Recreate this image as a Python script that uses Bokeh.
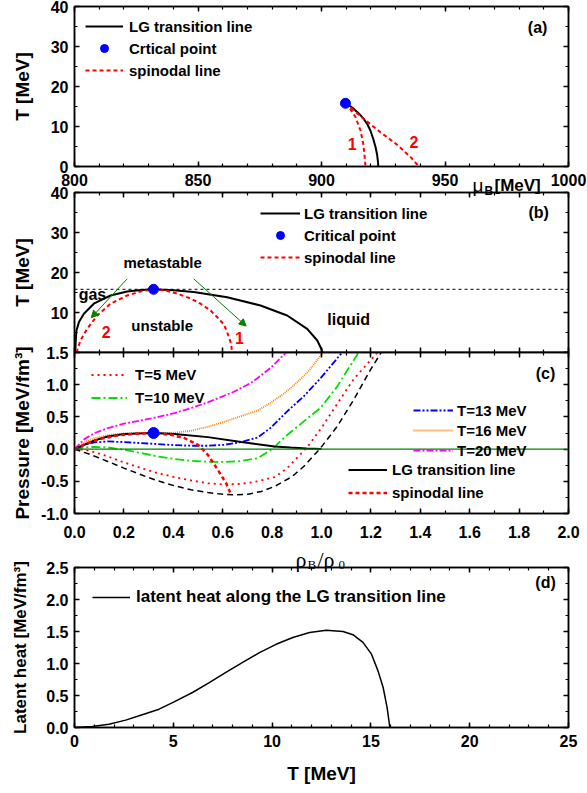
from bokeh.plotting import figure
from bokeh.layouts import column
from bokeh.models import (LinearAxis, SingleIntervalTicker, Legend, LegendItem,
                          Label, Span, Arrow, NormalHead, CustomJSTickFormatter, Range1d,
                          PrintfTickFormatter)
from bokeh.embed import file_html
from bokeh.resources import INLINE

# ---------------- data ----------------
# critical point
crit_mu = [909.7]
crit_T = [15.8]
crit_rho = [0.32]
crit_P = [0.25]

# panel (a): T vs mu_B
a_lg_mu = [909.7, 911.8, 913.1, 915.2, 917.1, 918.6, 919.8, 920.9, 921.9, 922.5, 922.8, 923.0]
a_lg_T = [15.8, 15.0, 14.4, 13.2, 11.9, 10.5, 9.0, 7.0, 4.8, 3.0, 1.5, 0.0]
a_sp1_mu = [909.7, 911.5, 913.8, 915.8, 916.9, 917.5, 917.8]
a_sp1_T = [15.8, 14.5, 12.3, 9.0, 5.7, 2.3, 0.0]
a_sp2_mu = [909.7, 912.0, 917.0, 924.0, 930.7, 936.0, 939.4]
a_sp2_T = [15.8, 14.6, 11.95, 8.5, 5.4, 2.4, 0.0]

# panel (b): T vs rho_B/rho_0
b_lg_rho = [0.003, 0.005, 0.008, 0.018, 0.038, 0.078, 0.146, 0.213, 0.27, 0.32, 0.40,
            0.483, 0.618, 0.753, 0.861, 0.942, 0.983, 1.0, 1.003]
b_lg_T = [0.0, 3.0, 5.5, 7.6, 9.7, 12.2, 14.25, 15.25, 15.65, 15.8, 15.55,
          15.1, 13.8, 11.75, 9.25, 5.9, 3.0, 0.8, 0.0]
b_sp_rho = [0.008, 0.024, 0.051, 0.092, 0.146, 0.213, 0.27, 0.32, 0.37, 0.416, 0.47,
            0.51, 0.551, 0.578, 0.605, 0.618, 0.634, 0.638]
b_sp_T = [0.0, 3.0, 5.9, 9.25, 12.2, 14.25, 15.3, 15.8, 15.5, 14.7, 13.5,
          12.2, 10.5, 8.8, 7.0, 5.1, 2.2, 0.0]
# arrows (start rho, start T, end rho, end T)
arrow_x0 = [0.213, 0.483]
arrow_y0 = [18.4, 18.4]
arrow_x1 = [0.068, 0.695]
arrow_y1 = [8.7, 6.6]

# panel (c): pressure isotherms
c_T0_rho = [0.0, 0.067, 0.135, 0.2, 0.27, 0.337, 0.405, 0.472, 0.54, 0.607, 0.648, 0.702,
            0.756, 0.81, 0.847, 0.88, 0.928, 0.996, 1.063, 1.131, 1.198, 1.232, 1.245]
c_T0_P = [0.0, -0.088, -0.192, -0.295, -0.399, -0.492, -0.57, -0.632, -0.674, -0.705, -0.71, -0.70,
          -0.658, -0.58, -0.50, -0.43, -0.27, 0.015, 0.35, 0.77, 1.23, 1.44, 1.52]
c_T5_rho = [0.0, 0.04, 0.081, 0.135, 0.2, 0.27, 0.337, 0.405, 0.472, 0.54, 0.607, 0.675,
            0.742, 0.81, 0.86, 0.90, 0.94, 1.0, 1.063, 1.131, 1.219, 1.23]
c_T5_P = [0.0, -0.01, -0.047, -0.114, -0.207, -0.295, -0.373, -0.435, -0.487, -0.53, -0.55, -0.54,
          -0.50, -0.435, -0.30, -0.14, 0.02, 0.33, 0.70, 1.09, 1.47, 1.52]
c_T10_rho = [0.0, 0.04, 0.081, 0.135, 0.2, 0.27, 0.337, 0.405, 0.472, 0.54, 0.607, 0.675,
             0.742, 0.80, 0.861, 0.928, 0.996, 1.063, 1.145, 1.15]
c_T10_P = [0.0, 0.026, 0.036, 0.026, -0.01, -0.062, -0.114, -0.155, -0.181, -0.197, -0.2, -0.186,
           -0.14, 0.0, 0.22, 0.43, 0.64, 0.97, 1.47, 1.52]
c_T13_rho = [0.0, 0.04, 0.081, 0.135, 0.2, 0.27, 0.337, 0.405, 0.472, 0.54, 0.607, 0.675,
             0.742, 0.794, 0.861, 0.928, 0.996, 1.077, 1.085]
c_T13_P = [0.0, 0.067, 0.104, 0.119, 0.109, 0.093, 0.078, 0.062, 0.052, 0.052, 0.067, 0.109,
           0.181, 0.33, 0.585, 0.82, 1.1, 1.47, 1.52]
c_T16_rho = [0.0, 0.04, 0.081, 0.135, 0.2, 0.32, 0.405, 0.472, 0.54, 0.607, 0.675, 0.742,
             0.794, 0.847, 0.90, 0.95, 0.996, 1.01]
c_T16_P = [0.0, 0.104, 0.171, 0.218, 0.244, 0.25, 0.254, 0.285, 0.347, 0.425, 0.513, 0.60,
           0.72, 0.86, 1.03, 1.22, 1.45, 1.52]
c_T20_rho = [0.0, 0.04, 0.081, 0.135, 0.2, 0.27, 0.337, 0.405, 0.472, 0.54, 0.645, 0.72,
             0.794, 0.854, 0.86]
c_T20_P = [0.0, 0.155, 0.249, 0.326, 0.394, 0.446, 0.497, 0.56, 0.637, 0.725, 0.89, 1.04,
           1.26, 1.49, 1.52]
c_lg_rho = [0.0, 0.04, 0.081, 0.135, 0.2, 0.32, 0.405, 0.54, 0.675, 0.81, 0.874, 0.94, 1.0]
c_lg_P = [0.0, 0.067, 0.135, 0.196, 0.233, 0.25, 0.233, 0.186, 0.109, 0.041, 0.025, 0.01, 0.0]
c_sp_rho = [0.0, 0.054, 0.108, 0.175, 0.243, 0.32, 0.391, 0.445, 0.5, 0.54, 0.58, 0.614, 0.634]
c_sp_P = [0.0, 0.093, 0.16, 0.212, 0.238, 0.25, 0.222, 0.171, 0.067, -0.088, -0.321, -0.53, -0.71]

# panel (d): latent heat vs T
d_T = [0.0, 0.9, 1.74, 2.59, 3.43, 4.28, 5.04, 5.97, 6.82, 7.66, 8.51, 9.36, 10.2, 11.05,
       11.9, 12.74, 13.59, 14.09, 14.6, 15.03, 15.36, 15.62, 15.82, 15.96]
d_L = [0.0, 0.016, 0.052, 0.115, 0.2, 0.286, 0.40, 0.547, 0.70, 0.86, 1.016, 1.17, 1.30, 1.406,
       1.484, 1.52, 1.50, 1.45, 1.33, 1.146, 0.885, 0.625, 0.31, 0.0]

# ---------------- styling helpers ----------------
FONT = "Liberation Sans"
SERIF = "Liberation Serif"
FRAME_L, FRAME_W, BORDER_R = 74, 494, 19


def style_axis(ax, labels=True, standoff=6, fmt=None, title_size="19px"):
    ax.axis_line_width = 1.5
    ax.axis_line_color = "black"
    ax.major_tick_in = 5
    ax.major_tick_out = 0
    ax.minor_tick_in = 3
    ax.minor_tick_out = 0
    ax.major_tick_line_width = 1.5
    ax.minor_tick_line_width = 1.2
    ax.major_label_text_font = FONT
    ax.major_label_text_font_style = "bold"
    ax.major_label_text_color = "black"
    if labels:
        ax.major_label_text_font_size = "16px"
        ax.major_label_standoff = standoff
        if fmt:
            ax.formatter = PrintfTickFormatter(format=fmt)
    else:
        ax.major_label_text_font_size = "0px"
        ax.major_label_standoff = 0
        ax.formatter = CustomJSTickFormatter(code="return ''")
    ax.axis_label_text_font = FONT
    ax.axis_label_text_font_style = "bold"
    ax.axis_label_text_font_size = title_size
    ax.axis_label_text_color = "black"


def make_panel(frame_h, xr, yr, xtick, ytick, top, bottom, mtop, xlabels,
               ylabel, ylab_standoff, xfmt=None, yfmt=None, xstand=7, xlabel=None,
               xlab_standoff=10, y_overrides=None, ytitle_size="19px"):
    p = figure(frame_width=FRAME_W, frame_height=frame_h, x_range=xr, y_range=yr,
               x_axis_type=None, y_axis_type=None, output_backend="svg",
               toolbar_location=None, min_border_left=FRAME_L, min_border_right=BORDER_R,
               min_border_top=top, min_border_bottom=bottom, margin=(mtop, 0, 0, 0))
    p.border_fill_alpha = 0
    p.background_fill_color = "white"
    p.outline_line_color = "black"
    p.outline_line_width = 1.5
    bx = LinearAxis(ticker=xtick)
    style_axis(bx, labels=xlabels, standoff=xstand, fmt=xfmt)
    if xlabel:
        bx.axis_label = xlabel
        bx.axis_label_standoff = xlab_standoff
    p.add_layout(bx, "below")
    tx = LinearAxis(ticker=xtick)
    style_axis(tx, labels=False)
    p.add_layout(tx, "above")
    ly = LinearAxis(ticker=ytick, axis_label=ylabel)
    style_axis(ly, labels=True, standoff=6, fmt=yfmt, title_size=ytitle_size)
    ly.axis_label_standoff = ylab_standoff
    if y_overrides:
        ly.major_label_overrides = y_overrides
    p.add_layout(ly, "left")
    ry = LinearAxis(ticker=ytick)
    style_axis(ry, labels=False)
    p.add_layout(ry, "right")
    return p


def make_legend(items, vx, vy, gw, standoff, lh, spacing, fsize="15px"):
    return Legend(items=items, location=(vx, vy), glyph_width=gw, glyph_height=lh,
                  label_height=lh, label_standoff=standoff, spacing=spacing, padding=0,
                  margin=0, border_line_alpha=0, background_fill_alpha=0,
                  label_text_font=FONT, label_text_font_size=fsize,
                  label_text_font_style="bold", label_text_color="black")


def txt(p, x, y, text, size="15px", color="black", align="center", style="bold",
        font=FONT, baseline="middle"):
    p.add_layout(Label(x=x, y=y, text=text, text_font=font, text_font_size=size,
                       text_font_style=style, text_color=color, text_align=align,
                       text_baseline=baseline))


# ---------------- panel (a) ----------------
pa = make_panel(160, Range1d(800, 1000), Range1d(0, 40),
                SingleIntervalTicker(interval=50, num_minor_ticks=5),
                SingleIntervalTicker(interval=10, num_minor_ticks=2),
                top=6, bottom=26, mtop=0, xlabels=True, ylabel="T [MeV]", ylab_standoff=15)
ra_lg = pa.line(a_lg_mu, a_lg_T, line_color="black", line_width=2)
ra_sp1 = pa.line(a_sp1_mu, a_sp1_T, line_color="red", line_width=2, line_dash="4 3")
pa.line(a_sp2_mu, a_sp2_T, line_color="red", line_width=2, line_dash="4 3")
ra_cp = pa.scatter(crit_mu, crit_T, size=10, marker="circle", color="blue")
pa.add_layout(make_legend([LegendItem(label="LG transition line", renderers=[ra_lg]),
                           LegendItem(label="Crtical point", renderers=[ra_cp]),
                           LegendItem(label="spinodal line", renderers=[ra_sp1])],
                          vx=11, vy=86, gw=38, standoff=6, lh=20, spacing=2))
txt(pa, 912.4, 5.7, "1", size="16px", color="red")
txt(pa, 937.4, 6.1, "2", size="16px", color="red")
txt(pa, 987.5, 34.8, "(a)", size="16px")
H_A = 6 + 160 + 26

# ---------------- panel (b) ----------------
pb = make_panel(160, Range1d(0, 2), Range1d(0, 40),
                SingleIntervalTicker(interval=0.2, num_minor_ticks=2),
                SingleIntervalTicker(interval=10, num_minor_ticks=2),
                top=12, bottom=10, mtop=-12, xlabels=False, ylabel="T [MeV]",
                ylab_standoff=15, y_overrides={0: ""})
pb.add_layout(Span(location=crit_T[0], dimension="width", line_color="black",
                   line_width=1, line_dash="3 3"))
rb_lg = pb.line(b_lg_rho, b_lg_T, line_color="black", line_width=2)
rb_sp = pb.line(b_sp_rho, b_sp_T, line_color="red", line_width=2, line_dash="4 3")
rb_cp = pb.scatter(crit_rho, crit_T, size=10, marker="circle", color="blue")
for x0, y0, x1, y1 in zip(arrow_x0, arrow_y0, arrow_x1, arrow_y1):
    pb.add_layout(Arrow(end=NormalHead(size=7, fill_color="green", line_color="green"),
                        x_start=x0, y_start=y0, x_end=x1, y_end=y1,
                        line_color="green", line_width=1))
pb.add_layout(make_legend([LegendItem(label="LG transition line", renderers=[rb_lg]),
                           LegendItem(label="Critical point", renderers=[rb_cp]),
                           LegendItem(label="spinodal line", renderers=[rb_sp])],
                          vx=186, vy=85, gw=40, standoff=4, lh=20, spacing=2))
txt(pb, 0.357, 22.6, "metastable")
txt(pb, 0.017, 14.5, "gas", size="16px", align="left")
txt(pb, 0.355, 6.75, "unstable")
txt(pb, 1.11, 8.2, "liquid", size="16px")
txt(pb, 0.668, 3.7, "1", size="16px", color="red")
txt(pb, 0.128, 5.1, "2", size="16px", color="red")
txt(pb, 1.879, 35.1, "(b)", size="16px")
H_B = 12 + 160 + 10 - 12

# ---------------- panel (c) ----------------
pc = make_panel(161, Range1d(0, 2), Range1d(-1.0, 1.5),
                SingleIntervalTicker(interval=0.2, num_minor_ticks=2),
                SingleIntervalTicker(interval=0.5, num_minor_ticks=2),
                top=12, bottom=56, mtop=-22, xlabels=True,
                ylabel="Pressure [MeV/fm³]", ylab_standoff=5,
                xfmt="%.1f", yfmt="%.1f", xstand=12)
pc.add_layout(Span(location=0, dimension="width", line_color="#008000", line_width=1.2))
pc.line(c_T0_rho, c_T0_P, line_color="black", line_width=1.5, line_dash="6 4")
r5 = pc.line(c_T5_rho, c_T5_P, line_color="red", line_width=1.8, line_dash="2 4")
r10 = pc.line(c_T10_rho, c_T10_P, line_color="#00e000", line_width=1.8, line_dash="9 3 2 3")
r13 = pc.line(c_T13_rho, c_T13_P, line_color="blue", line_width=1.8, line_dash="7 2 2 2 2 2")
r16 = pc.line(c_T16_rho, c_T16_P, line_color="#ff8000", line_width=1.8, line_dash="1 1")
r20 = pc.line(c_T20_rho, c_T20_P, line_color="magenta", line_width=1.8, line_dash="7 2 2 2")
rc_lg = pc.line(c_lg_rho, c_lg_P, line_color="black", line_width=2)
rc_sp = pc.line(c_sp_rho, c_sp_P, line_color="red", line_width=2.5, line_dash="4 3")
pc.scatter(crit_rho, crit_P, size=11, marker="circle", color="blue")
pc.add_layout(make_legend([LegendItem(label="T=5 MeV", renderers=[r5]),
                           LegendItem(label="T=10 MeV", renderers=[r10])],
                          vx=17, vy=105, gw=36, standoff=8, lh=21, spacing=2))
pc.add_layout(make_legend([LegendItem(label="T=13 MeV", renderers=[r13]),
                           LegendItem(label="T=16 MeV", renderers=[r16]),
                           LegendItem(label="T=20 MeV", renderers=[r20])],
                          vx=339, vy=53, gw=40, standoff=4, lh=20, spacing=0))
pc.add_layout(make_legend([LegendItem(label="LG transition line", renderers=[rc_lg]),
                           LegendItem(label="spinodal line", renderers=[rc_sp])],
                          vx=274, vy=10, gw=39, standoff=5, lh=21, spacing=2))
txt(pc, 1.907, 1.18, "(c)", size="16px")
H_C = 12 + 161 + 56 - 22

# ---------------- panel (d) ----------------
pd_ = make_panel(160, Range1d(0, 25), Range1d(0, 2.5),
                 SingleIntervalTicker(interval=5, num_minor_ticks=5),
                 SingleIntervalTicker(interval=0.5, num_minor_ticks=2),
                 top=20, bottom=64, mtop=-22, xlabels=True,
                 ylabel="Latent heat [MeV/fm³]", ylab_standoff=13, yfmt="%.1f",
                 xstand=7, xlabel="T [MeV]", xlab_standoff=13, ytitle_size="17px")
rd = pd_.line(d_T, d_L, line_color="black", line_width=1.5)
pd_.add_layout(make_legend([LegendItem(label="latent heat along the LG transition line",
                                       renderers=[rd])],
                           vx=18, vy=120, gw=38, standoff=6, lh=20, spacing=0, fsize="17px"))
txt(pd_, 23.84, 2.27, "(d)", size="16px")
H_D = 20 + 160 + 64 - 22

# ---------------- transparent overlay (page-pixel coordinates) for sub-scripted titles ----------------
H_ALL = H_A + H_B + H_C + H_D
ov = figure(frame_width=FRAME_W, frame_height=H_ALL,
            x_range=Range1d(FRAME_L, FRAME_L + FRAME_W), y_range=Range1d(H_ALL, 0),
            x_axis_type=None, y_axis_type=None, output_backend="svg", toolbar_location=None,
            min_border_left=FRAME_L, min_border_right=BORDER_R, min_border_top=0,
            min_border_bottom=0, margin=(-H_ALL, 0, 0, 0))
ov.border_fill_alpha = 0
ov.background_fill_alpha = 0
ov.outline_line_color = None
# mu_B [MeV] (panel a, in the tick-label row)
txt(ov, 472, 185, "μ", size="19px", align="left", style="normal", baseline="alphabetic")
txt(ov, 484, 190, "B", size="12px", align="left", baseline="alphabetic")
txt(ov, 494, 185, "[MeV]", size="17px", align="left", baseline="alphabetic")
# rho_B / rho_0 (panel c)
txt(ov, 295, 559, "ρ", size="22px", align="left", style="normal", font=SERIF,
    baseline="alphabetic")
txt(ov, 307, 564, "B", size="13px", align="left", style="normal", font=SERIF,
    baseline="alphabetic")
txt(ov, 317, 559, "/ρ", size="22px", align="left", style="normal", font=SERIF,
    baseline="alphabetic")
txt(ov, 338, 564, "0", size="13px", align="left", style="normal", font=SERIF,
    baseline="alphabetic")

layout = column(pa, pb, pc, pd_, ov, spacing=0)
open("out.html", "w").write(file_html(layout, INLINE))
